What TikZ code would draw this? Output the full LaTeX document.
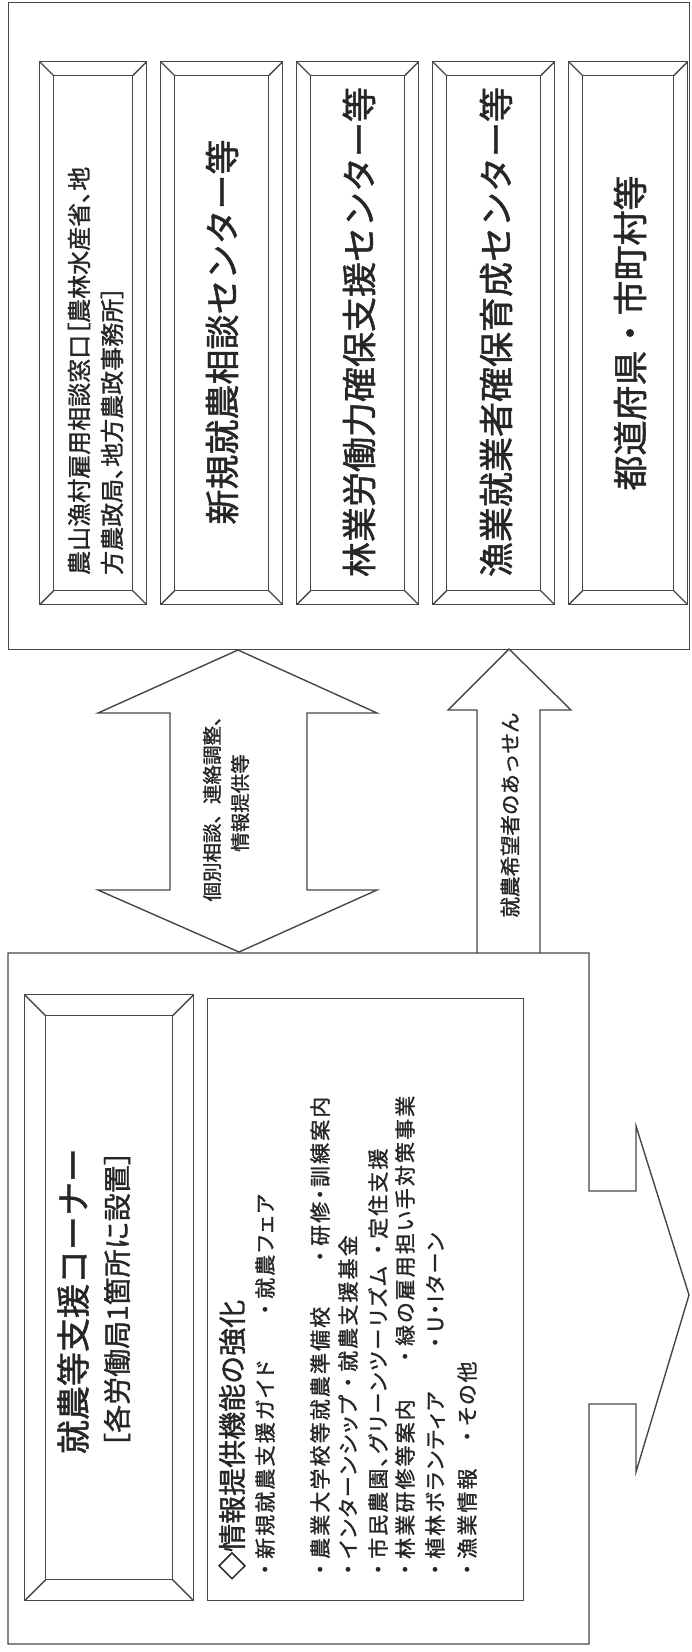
\documentclass[tikz,border=0pt]{standalone}
\usepackage{fontspec}
\newfontfamily\jp[FakeBold=1.3]{Noto Sans CJK JP}
\newfontfamily\jpp[FakeBold=1.3,RawFeature=+palt]{Noto Sans CJK JP}
\newfontfamily\jpi[FakeBold=1.3,LetterSpace=12]{Noto Sans CJK JP}
\newfontfamily\jpk[FakeBold=1.3,LetterSpace=10,RawFeature=+palt]{Noto Sans CJK JP}
\newcommand\fsz[1]{\fontsize{#1}{#1}\selectfont}
\newcommand\dt{{\jpi ・}}
\definecolor{lc}{HTML}{474747}
\definecolor{tc}{HTML}{262626}
\tikzset{
  ln/.style={line width=1.4pt, draw=lc, line join=miter},
  box/.style={ln, rectangle, inner sep=0pt},
  bevel/.style={ln, rectangle, inner sep=0pt, path picture={
    \draw[ln] ([shift={(#1pt,-#1pt)}]path picture bounding box.north west) rectangle ([shift={(-#1pt,#1pt)}]path picture bounding box.south east);
    \draw[ln] (path picture bounding box.north west) -- ++(#1pt,-#1pt);
    \draw[ln] (path picture bounding box.north east) -- ++(-#1pt,-#1pt);
    \draw[ln] (path picture bounding box.south west) -- ++(#1pt,#1pt);
    \draw[ln] (path picture bounding box.south east) -- ++(-#1pt,#1pt);
  }},
  vt/.style={rotate=90, inner sep=0pt, text=tc},
  vl/.style={vt, anchor=west},
  info/.style={vl, font=\jpk\fsz{21}},
}
\begin{document}
\begin{tikzpicture}[x=1pt,y=-1pt]
\useasboundingbox (0,0) rectangle (691,1652);
\fill[white] (0,0) rectangle (691,1652);

% ---------- upper frame with five organisations ----------
\node[box, minimum width=681pt, minimum height=647pt, anchor=north west] (top) at (8,2) {};
\node[bevel=14, minimum width=107pt, minimum height=543pt, anchor=north west] (c1) at (39,61) {};
\node[bevel=14, minimum width=122pt, minimum height=543pt, anchor=north west] (c2) at (160,61) {};
\node[bevel=14, minimum width=122pt, minimum height=543pt, anchor=north west] (c3) at (296,61) {};
\node[bevel=14, minimum width=122pt, minimum height=543pt, anchor=north west] (c4) at (432,61) {};
\node[bevel=14, minimum width=119pt, minimum height=543pt, anchor=north west] (c5) at (568,61) {};

\node[vl, align=left, font=\jpp\fsz{24}] (t1) at (95.5,575) {農山漁村雇用相談窓口［農林水産省、地\\[9pt]方農政局、地方農政事務所］};
\node[vt, font=\jp\fsz{35}] (t2) at (222,332) {新規就農相談センター等};
\node[vt, font=\jp\fsz{35}] (t3) at (359,332) {林業労働力確保支援センター等};
\node[vt, font=\jp\fsz{35}] (t4) at (496,332) {漁業就業者確保育成センター等};
\node[vt, font=\jp\fsz{35}] (t5) at (630,333) {都道府県・市町村等};

% ---------- arrows between ----------
\draw[ln] (238,650) -- (377,713) -- (307,713) -- (307,890) -- (377,890) -- (239,952)
  -- (98,890) -- (170,890) -- (170,713) -- (98,713) -- cycle;
\node[vt, font=\jp\fsz{19.5}] (a1) at (212,804) {個別相談、連絡調整、};
\node[vt, font=\jp\fsz{19.5}] (a2) at (240,803) {情報提供等};

\draw[ln] (477,953) -- (477,710) -- (448,710) -- (509,649) -- (571,710) -- (540,710) -- (540,953);
\node[vt, font=\jp\fsz{20.5}] (a3) at (510,815) {就農希望者のあっせん};

% ---------- lower frame with big arrow ----------
\draw[ln] (8,953) -- (589,953) -- (589,1191) -- (636,1191) -- (636,1126) -- (689,1295)
  -- (636,1472) -- (636,1404) -- (589,1404) -- (589,1644) -- (8,1644) -- cycle;

\node[bevel=21, minimum width=169pt, minimum height=606pt, anchor=north west] (corner) at (24,994) {};
\node[vt, font=\jp\fsz{34}] (k1) at (73,1301) {就農等支援コーナー};
\node[vt, font=\jp\fsz{28}] (k2) at (117,1299) {［各労働局1箇所に設置］};

\node[box, minimum width=316pt, minimum height=602pt, anchor=north west] (infobox) at (207,998) {};
\node[vl, font=\jp\fsz{28}] (i1) at (232,1580) {◇情報提供機能の強化};
\node[info] (i2a) at (265,1580) {\dt 新規就農支援ガイド};
\node[info] (i2b) at (265,1320) {\dt 就農フェア};
\node[info] (i3a) at (320,1580) {\dt 農業大学校等就農準備校};
\node[info] (i3b) at (320,1267) {\dt 研修・訓練案内};
\node[info] (i4a) at (348,1580) {\dt インターンシップ};
\node[info] (i4b) at (348,1393) {\dt 就農支援基金};
\node[info] (i5a) at (378,1580) {\dt 市民農園、グリーンツーリズム};
\node[info] (i5b) at (378,1260) {\dt 定住支援};
\node[info] (i6a) at (405,1580) {\dt 林業研修等案内};
\node[info] (i6b) at (405,1367) {\dt 緑の雇用担い手対策事業};
\node[info] (i7a) at (435,1580) {\dt 植林ボランティア};
\node[info] (i7b) at (435,1353) {\dt U・Iターン};
\node[info] (i8a) at (467,1580) {\dt 漁業情報};
\node[info] (i8b) at (467,1447) {\dt その他};
\end{tikzpicture}
\end{document}
